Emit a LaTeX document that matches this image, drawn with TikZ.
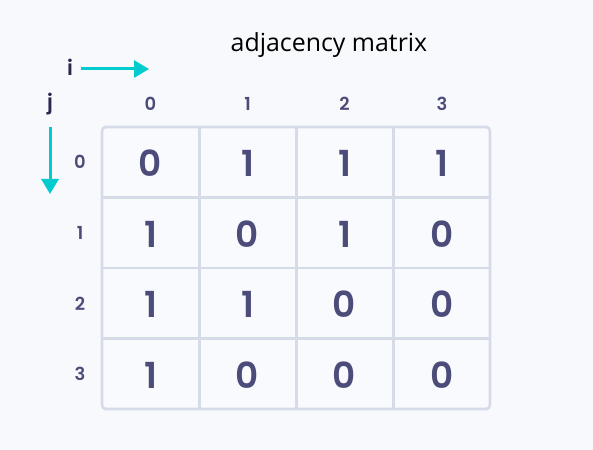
\documentclass[tikz,border=0pt]{standalone}
\usepackage{fontspec}
\setmainfont{Poppins}[BoldFont={Poppins SemiBold}]
\newfontfamily\titlefont{Open Sans}
\definecolor{bgc}{RGB}{248,249,252}
\definecolor{cellc}{RGB}{249,250,254}
\definecolor{gridc}{RGB}{213,220,231}
\definecolor{numc}{RGB}{76,76,122}
\definecolor{ijc}{RGB}{40,40,80}
\definecolor{arrc}{RGB}{0,204,208}
\usetikzlibrary{arrows.meta}
\tikzset{
  cellnum/.style={font=\fontsize{36}{36}\selectfont\bfseries, text=numc},
  headnum/.style={font=\fontsize{18}{18}\selectfont\bfseries, text=numc},
  ijlab/.style={font=\fontsize{21}{21}\selectfont\bfseries, text=ijc},
  gridline/.style={draw=gridc, line width=2.6bp},
  cyanarrow/.style={draw=arrc, line width=3bp, -{Triangle[length=15bp,width=17bp]}}
}
\begin{document}
\begin{tikzpicture}[x=1bp,y=-1bp]
\fill[bgc] (0,0) rectangle (593,450);
\useasboundingbox (0,0) rectangle (593,450);
% title
\node[font=\titlefont\fontsize{25}{25}\selectfont, text=black] (title) at (329,45) {adjacency matrix};
% i and j
\node[ijlab] (ilab) at (70,67) {i};
\coordinate (iend) at (149,69);
\draw[cyanarrow] (81,69) -- (iend);
\node[ijlab] (jlab) at (50,104) {j};
\coordinate (jend) at (50,194);
\draw[cyanarrow] (50,127) -- (jend);
% grid
\fill[cellc, rounded corners=4bp] (102,127) rectangle (490,409);
\foreach \x in {199.5,296.5,393.5} \draw[gridline] (\x,127) -- (\x,409);
\foreach \y in {197.5,268,338.5} \draw[gridline] (102,\y) -- (490,\y);
\draw[gridline, rounded corners=4bp] (102,127) rectangle (490,409);
% headers
\foreach \c [count=\k from 0] in {150.5,247.5,344.5,442} \node[headnum] (col\k) at (\c,104) {\k};
\foreach \r [count=\k from 0] in {162,233,303.5,374} \node[headnum] (row\k) at (80,\r) {\k};
% cells
\def\cx{{150.5,247.5,344.5,442}}
\def\ry{{163,234,304.5,375}}
\foreach \row/\vals in {0/{0,1,1,1},1/{1,0,1,0},2/{1,1,0,0},3/{1,0,0,0}}{
  \foreach \v [count=\c from 0] in \vals {
    \pgfmathsetmacro{\xx}{\cx[\c]}
    \pgfmathsetmacro{\yy}{\ry[\row]}
    \node[cellnum] (m\row\c) at (\xx,\yy) {\v};
  }
}
\end{tikzpicture}
\end{document}
